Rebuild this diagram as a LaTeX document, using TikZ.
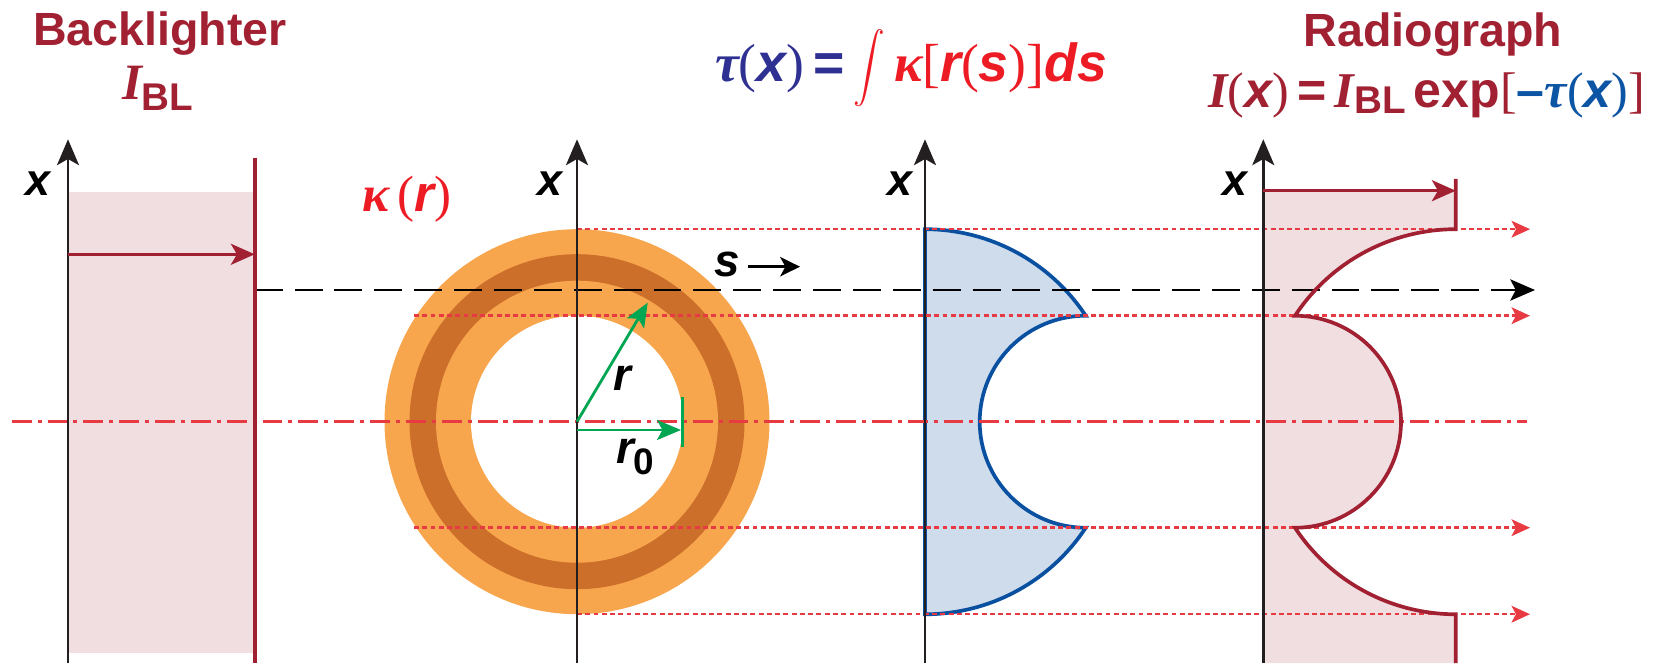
\documentclass[tikz,border=0pt]{standalone}
\usepackage{fontspec}
\usepackage{graphicx}
\setmainfont{Liberation Sans}
\newfontfamily\serifgr{Liberation Serif}
\usetikzlibrary{arrows.meta}
\definecolor{dred}{RGB}{161,33,50}
\definecolor{pinkf}{RGB}{240,222,225}
\definecolor{lred}{RGB}{232,58,66}
\definecolor{fred}{RGB}{237,28,36}
\definecolor{navy}{RGB}{46,49,146}
\definecolor{tblue}{RGB}{12,84,164}
\definecolor{sblue}{RGB}{206,220,236}
\definecolor{sline}{RGB}{10,80,160}
\definecolor{orl}{RGB}{248,166,77}
\definecolor{ord}{RGB}{204,111,42}
\definecolor{grn}{RGB}{0,166,81}
\definecolor{axk}{RGB}{35,31,32}
\newcommand{\bi}[1]{{\bfseries\itshape #1}}
\newcommand{\gk}[1]{{\serifgr\bfseries\itshape #1}}
\newcommand{\tp}[1]{{\serifgr #1}}
\newcommand{\fs}[1]{\fontsize{#1}{#1}\selectfont}
\newcommand{\bigint}{\raisebox{-14pt}{\resizebox*{18pt}{44pt}{\raisebox{\depth}{$\displaystyle\int$}}}}
\begin{document}
\begin{tikzpicture}[x=0.02cm,y=0.02cm,
  axisline/.style={line width=1.6pt, draw=axk, -{Stealth[length=14.7pt,width=12.5pt,inset=3.5pt]}},
  redarrow/.style={line width=1.6pt, draw=dred, -{Stealth[length=13.6pt,width=12pt,inset=3.5pt,fill=dred]}},
  dotarrow/.style={line width=1.4pt, draw=lred, dash pattern=on 2.8pt off 1.9pt, -{Stealth[length=10.5pt,width=9.5pt,inset=2.5pt,fill=lred]}},
  dashdotline/.style={line width=2pt, draw=lred, dash pattern=on 11.3pt off 3.4pt on 2.3pt off 3.4pt},
  blackdash/.style={line width=1.7pt, draw=black, dash pattern=on 15.9pt off 6.8pt, -{Stealth[length=14pt,width=12pt,inset=3pt]}},
  greenarrow/.style={line width=1.6pt, draw=grn, -{Stealth[length=13.6pt,width=11.3pt,inset=3pt,fill=grn]}},
  sarrow/.style={line width=1.5pt, draw=black, -{Stealth[length=11.3pt,width=11pt,inset=3pt]}},
  lbl/.style={inner sep=0pt, outer sep=0pt},
  title/.style={lbl, text=dred, font=\fs{26.5}\bfseries},
  xlabel/.style={lbl, anchor=base, font=\fs{25.5}\bfseries\itshape}
]
\useasboundingbox (0,0) rectangle (1659,663);
% ---------- coordinates ----------
\coordinate (c) at (577,241.3);
\coordinate (a1b) at (68,0);      \coordinate (a1t) at (68,523.7);
\coordinate (a2b) at (577,0);     \coordinate (a2t) at (577,523.7);
\coordinate (a3b) at (925,0);     \coordinate (a3t) at (925,523.7);
\coordinate (a4b) at (1263.3,0);  \coordinate (a4t) at (1263.3,523.7);
% ---------- backlighter fill ----------
\fill[pinkf] (68,10.3) rectangle (254.7,471.3);
% ---------- rings ----------
\fill[orl] (c) circle[radius=192.5];
\fill[ord] (c) circle[radius=167.5];
\fill[orl] (c) circle[radius=141];
\fill[white] (c) circle[radius=106];
% ---------- tau profile ----------
\filldraw[fill=sblue, draw=sline, line width=2.1pt]
  (925,433.8) arc[start angle=90, end angle=33.4, radius=192.5]
  arc[start angle=90, end angle=270, radius=106]
  arc[start angle=-33.4, end angle=-90, radius=192.5] -- cycle;
% ---------- radiograph fill ----------
\fill[pinkf] (1263.3,472.3) -- (1455.7,472.3) -- (1455.7,433.8)
  arc[start angle=90, end angle=146.6, radius=192.5]
  arc[start angle=90, end angle=-90, radius=106]
  arc[start angle=213.4, end angle=270, radius=192.5]
  -- (1455.7,0) -- (1263.3,0) -- cycle;
% ---------- ray lines ----------
\coordinate (dd1) at (11.7,241.3);  \coordinate (dd2) at (1527,241.3);
\coordinate (r1a) at (577,433.8);   \coordinate (r1b) at (1530,433.8);
\coordinate (r2a) at (414,347.3);   \coordinate (r2b) at (1530,347.3);
\coordinate (r3a) at (414,135.3);   \coordinate (r3b) at (1530,135.3);
\coordinate (r4a) at (577,48.8);    \coordinate (r4b) at (1530,48.8);
\coordinate (sa) at (254.7,373);    \coordinate (sb) at (1535,373);
\draw[dashdotline] (dd1) -- (dd2);
\draw[dotarrow] (r1a) -- (r1b);
\draw[dotarrow] (r2a) -- (r2b);
\draw[dotarrow] (r3a) -- (r3b);
\draw[dotarrow] (r4a) -- (r4b);
\draw[blackdash] (sa) -- (sb);
% ---------- radiograph outline ----------
\draw[dred, line width=2.1pt] (1455.7,484) -- (1455.7,433.8)
  arc[start angle=90, end angle=146.6, radius=192.5]
  arc[start angle=90, end angle=-90, radius=106]
  arc[start angle=213.4, end angle=270, radius=192.5]
  -- (1455.7,0);
% ---------- axes ----------
\draw[axisline] (a1b) -- (a1t);
\draw[axisline] (a2b) -- (a2t);
\draw[axisline] (a3b) -- (a3t);
\draw[axisline] (a4b) -- (a4t);
% ---------- backlighter ----------
\coordinate (blt) at (254.7,505.3); \coordinate (blb) at (254.7,0);
\draw[dred, line width=2.1pt] (blt) -- (blb);
\coordinate (ba1) at (68,408.7); \coordinate (ba2) at (254.7,408.7);
\draw[redarrow] (ba1) -- (ba2);
\coordinate (ra1) at (1263.3,472.3); \coordinate (ra2) at (1455.7,472.3);
\draw[redarrow] (ra1) -- (ra2);
% ---------- green radii ----------
\coordinate (g1) at (647.7,360.3);
\coordinate (g2a) at (577,233); \coordinate (g2b) at (681,233);
\coordinate (tk1) at (682.7,266.3); \coordinate (tk2) at (682.7,216.3);
\draw[greenarrow] (c) -- (g1);
\draw[greenarrow] (g2a) -- (g2b);
\draw[grn, line width=1.6pt] (tk1) -- (tk2);
% ---------- s arrow ----------
\coordinate (sx1) at (748,396.3); \coordinate (sx2) at (800,396.3);
\draw[sarrow] (sx1) -- (sx2);
% ---------- texts ----------
\node[title, anchor=base] (tbl) at (160,617.3) {Backlighter};
\node[lbl, anchor=base west, text=dred] (ibl) at (122,563)
  {\gk{\fs{29}I}\raisebox{-5.7pt}{\fs{22}\bfseries BL}};
\node[title, anchor=base] (trg) at (1433,616.3) {Radiograph};
\node[lbl, anchor=base west] (eq2) at (1208,555)
  {\fs{28.5}\color{dred}\gk{I}\tp{(}\bi{x}\tp{)}\,\textbf{=}\,\gk{I}\raisebox{-3pt}{\fs{22}\bfseries BL}\,\textbf{exp}\tp{[}{\color{tblue}\textbf{\textendash}\gk{τ}\tp{(}\bi{x}\tp{)}}\tp{]}};
\node[lbl, anchor=base west] (eq1) at (715,581)
  {\fs{30.5}{\color{navy}\gk{τ}\tp{(}\bi{x}\tp{)}\,\textbf{=}}\,{\color{fred}\bigint\,\gk{κ}\tp{[}\bi{r}\tp{(}\bi{s}\tp{)}\tp{]}\bi{ds}}};
\node[lbl, anchor=base west, text=fred] (kap) at (362,451.3)
  {\fs{29}\gk{κ}\,\tp{(}\bi{r}\tp{)}};
\node[xlabel] (x1) at (38,467) {x};
\node[xlabel] (x2) at (550,467) {x};
\node[xlabel] (x3) at (900,467) {x};
\node[xlabel] (x4) at (1235,467) {x};
\node[lbl, anchor=base west, font=\fs{26}\bfseries\itshape] (rl) at (613,273) {r};
\node[lbl, anchor=base west] (r0) at (616,200)
  {\fs{26}\bi{r}\raisebox{-6.8pt}{\fs{21}\bfseries 0}};
\node[lbl, anchor=base, font=\fs{26}\bfseries\itshape] (sl) at (726.7,386.3) {s};
\end{tikzpicture}
\end{document}
